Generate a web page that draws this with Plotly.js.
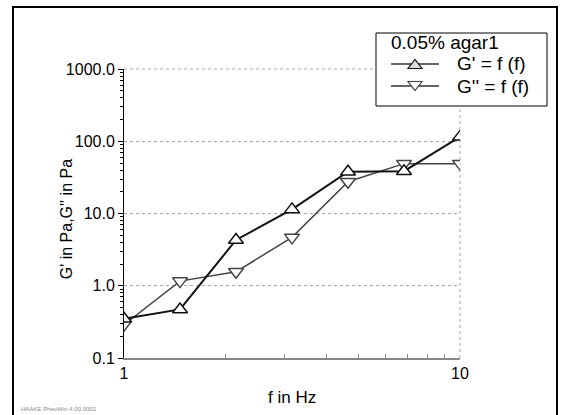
<!DOCTYPE html>
<html>
<head>
<meta charset="utf-8">
<script src="https://cdn.plot.ly/plotly-3.0.1.min.js"></script>
<style>
  html, body { margin: 0; padding: 0; background: #fff; }
  #chart { width: 564px; height: 415px; }
</style>
</head>
<body>
<div id="chart"></div>
<script>
// Frequency (Hz)
var freq = [1, 1.468, 2.154, 3.162, 4.642, 6.813, 10];
// Storage modulus G' (Pa)
var gPrime = [0.35, 0.47, 4.3, 11.4, 37.8, 38.5, 115];
// Loss modulus G'' (Pa)
var gDouble = [0.29, 1.16, 1.56, 4.67, 27.5, 49, 49];

var seriesNames = ["G' = f (f)", "G'' = f (f)"];
var legendTitle = '0.05% agar1';

var yTickVals = [0.1, 1, 10, 100, 1000];
var yTickText = ['0.1', '1.0', '10.0', '100.0', '1000.0'];
var xTickVals = [1, 10];
var xTickText = ['1', '10'];
var xMinorVals = [2, 3, 4, 5, 6, 7, 8, 9];
var yMinorVals = [0.2,0.3,0.4,0.5,0.6,0.7,0.8,0.9,2,3,4,5,6,7,8,9,20,30,40,50,60,70,80,90,200,300,400,500,600,700,800,900];

var font = 'Liberation Sans, Arial, sans-serif';

// plot-area geometry (pixels) used to place decorations in paper coords
var M = {l: 124, r: 104, t: 69, b: 57};
var W = 564, H = 415;
var PW = W - M.l - M.r, PH = H - M.t - M.b;
function px(x) { return (x - M.l) / PW; }
function py(y) { return (H - M.b - y) / PH; }

var colG1 = '#111111', colG2 = '#444444';

var traces = [
  {
    x: freq, y: gDouble, name: seriesNames[1],
    type: 'scatter', mode: 'lines+markers', showlegend: false,
    line: {color: colG2, width: 1.5},
    marker: {symbol: 'triangle-down', size: 13, color: '#ffffff', line: {color: colG2, width: 1.5}}
  },
  {
    x: freq, y: gPrime, name: seriesNames[0],
    type: 'scatter', mode: 'lines+markers', showlegend: false,
    line: {color: colG1, width: 2},
    marker: {symbol: 'triangle-up', size: 13, color: '#ffffff', line: {color: colG1, width: 1.5}}
  }
];

// legend decoration (manual box)
var legBox = {x0: 376, x1: 547, y0: 33, y1: 106};
var rowY = [64, 86];
var sampleX0 = 391, sampleX1 = 439, textX = 455;
function tri(cx, cy, up) {
  var hw = 7, hh = 4.5;
  var pts = up ? [[cx-hw, cy+hh],[cx+hw, cy+hh],[cx, cy-hh]]
               : [[cx-hw, cy-hh],[cx+hw, cy-hh],[cx, cy+hh]];
  return 'M' + pts.map(function(p){ return px(p[0]) + ',' + py(p[1]); }).join(' L') + ' Z';
}

var shapes = [
  // outer frame
  {type: 'rect', xref: 'paper', yref: 'paper', x0: px(13), x1: px(557), y0: py(420), y1: py(7),
   line: {color: '#000000', width: 2}, fillcolor: 'rgba(0,0,0,0)', layer: 'above'},
  // top gridline (1000) and right gridline (10), which sit on the plot edges
  {type: 'line', xref: 'paper', yref: 'paper', x0: 0, x1: 1, y0: 1, y1: 1,
   line: {color: '#aaaaaa', width: 1, dash: '3px,3px'}, layer: 'below'},
  {type: 'line', xref: 'paper', yref: 'paper', x0: 1, x1: 1, y0: 0, y1: 1,
   line: {color: '#aaaaaa', width: 1, dash: '3px,3px'}, layer: 'below'},
  // legend box
  {type: 'rect', xref: 'paper', yref: 'paper', x0: px(legBox.x0), x1: px(legBox.x1), y0: py(legBox.y1), y1: py(legBox.y0),
   line: {color: '#000000', width: 1}, fillcolor: '#ffffff', layer: 'above'}
];
[0, 1].forEach(function(i) {
  var c = i === 0 ? colG1 : colG2;
  shapes.push({type: 'line', xref: 'paper', yref: 'paper', x0: px(sampleX0), x1: px(sampleX1), y0: py(rowY[i]), y1: py(rowY[i]),
               line: {color: '#333333', width: 1.5}, layer: 'above'});
  shapes.push({type: 'path', xref: 'paper', yref: 'paper', path: tri((sampleX0 + sampleX1) / 2, rowY[i], i === 0),
               line: {color: c, width: 1.2}, fillcolor: i === 0 ? '#dddddd' : '#ffffff', layer: 'above'});
});

var annotations = [
  {text: "G' in Pa,G'' in Pa", xref: 'paper', yref: 'paper', x: px(66), y: 0.48,
   xanchor: 'center', yanchor: 'middle', textangle: -90, showarrow: false,
   font: {family: font, size: 16, color: '#000000'}},
  {text: 'f in Hz', xref: 'paper', yref: 'paper', x: 0.5, y: py(397),
   xanchor: 'center', yanchor: 'middle', showarrow: false,
   font: {family: font, size: 17, color: '#000000'}},
  {text: 'HAAKE RheoWin 4.00.0002', xref: 'paper', yref: 'paper', x: px(19), y: py(409),
   xanchor: 'left', yanchor: 'middle', showarrow: false,
   font: {family: font, size: 6, color: '#888888'}},
  {text: legendTitle, xref: 'paper', yref: 'paper', x: px(389), y: py(43),
   xanchor: 'left', yanchor: 'middle', showarrow: false,
   font: {family: font, size: 19, color: '#000000'}},
  {text: seriesNames[0], xref: 'paper', yref: 'paper', x: px(textX), y: py(rowY[0]),
   xanchor: 'left', yanchor: 'middle', showarrow: false,
   font: {family: font, size: 19, color: '#000000'}},
  {text: seriesNames[1], xref: 'paper', yref: 'paper', x: px(textX), y: py(rowY[1]),
   xanchor: 'left', yanchor: 'middle', showarrow: false,
   font: {family: font, size: 19, color: '#000000'}}
];

var layout = {
  width: W, height: H,
  margin: M,
  paper_bgcolor: '#ffffff', plot_bgcolor: '#ffffff',
  font: {family: font, color: '#000000', size: 16},
  showlegend: false,
  xaxis: {
    type: 'log', range: [0, 1],
    tickmode: 'array', tickvals: xTickVals, ticktext: xTickText,
    ticks: '', showline: true, linecolor: '#888888', linewidth: 2,
    showgrid: true, gridcolor: '#aaaaaa', griddash: '3px,3px', gridwidth: 1,
    zeroline: false,
    tickfont: {family: font, size: 16, color: '#000000'},
    minor: {tickmode: 'array', tickvals: xMinorVals, ticks: 'inside', ticklen: 4, tickcolor: '#888888', tickwidth: 1, showgrid: false}
  },
  yaxis: {
    type: 'log', range: [-1, 3],
    tickmode: 'array', tickvals: yTickVals, ticktext: yTickText,
    ticks: 'outside', ticklen: 5, tickcolor: '#000000', tickwidth: 1,
    showline: true, linecolor: '#000000', linewidth: 1,
    showgrid: true, gridcolor: '#aaaaaa', griddash: '3px,3px', gridwidth: 1,
    zeroline: false,
    tickfont: {family: font, size: 16, color: '#000000'},
    minor: {tickmode: 'array', tickvals: yMinorVals, ticks: 'outside', ticklen: 3, tickcolor: '#000000', tickwidth: 1, showgrid: false}
  },
  shapes: shapes,
  annotations: annotations
};

Plotly.newPlot('chart', traces, layout, {displayModeBar: false, staticPlot: true});
</script>
</body>
</html>
